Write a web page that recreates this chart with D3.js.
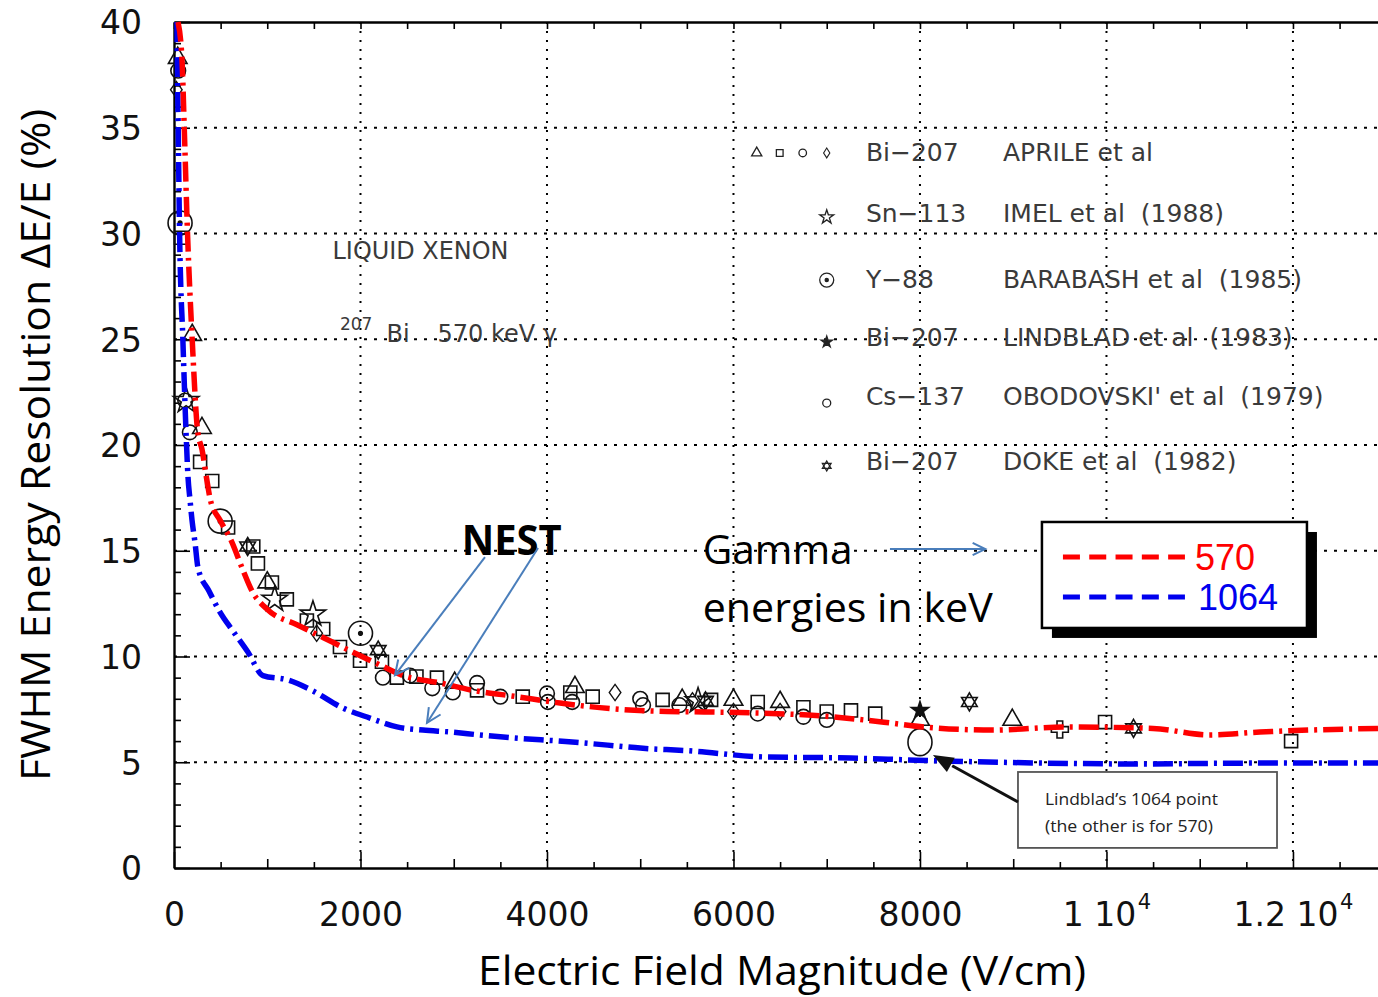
<!DOCTYPE html>
<html>
<head>
<meta charset="utf-8">
<script src="https://cdn.jsdelivr.net/npm/d3@7"></script>
<style>
  body { margin: 0; background: #fff; }
  svg { display: block; }
</style>
</head>
<body>
<svg id="chart" width="1378" height="997"></svg>
<script>
// ---------------- data ----------------
const xTickValues = [0, 2000, 4000, 6000, 8000, 10000, 12000];
const xTickLabels = ["0", "2000", "4000", "6000", "8000", "1 10^4", "1.2 10^4"];
const yTickValues = [0, 5, 10, 15, 20, 25, 30, 35, 40];
const yTickLabels = ["0", "5", "10", "15", "20", "25", "30", "35", "40"];

// NEST predictions, FWHM resolution (%) vs drift field (V/cm)
const curve570 = [[43,40],[86,38.2],[110,35],[145,30],[195,25],[255,20.6],[300,19.8],[354,18.3],
  [390,17.4],[493,16.45],[622,15.4],[729,14.2],[836,13.1],[1008,12.2],[1319,11.5],[1598,10.9],
  [1920,10.2],[2209,9.6],[2456,9.1],[2853,8.75],[3206,8.4],[3678,8.1],[4139,7.8],[4783,7.5],
  [5287,7.4],[5684,7.38],[6799,7.23],[7399,7.0],[7678,6.86],[8043,6.67],[8783,6.52],[9566,6.67],
  [10499,6.6],[11099,6.29],[11646,6.43],[12580,6.57],[12912,6.6]];
const curve1064 = [[32,40],[45,35],[60,30],[95,25],[130,20.5],[150,18.5],[172,17.4],[193,16.45],
  [225,15.4],[257,14.2],[375,13.1],[493,12.1],[633,11.2],[794,10.2],[954,9.1],[1212,8.9],
  [1491,8.37],[1812,7.56],[2102,7.09],[2391,6.67],[2670,6.52],[2960,6.43],[3281,6.29],[3635,6.15],
  [4200,5.98],[4750,5.77],[5000,5.67],[5500,5.55],[6338,5.25],[7260,5.2],[7957,5.1],[9340,4.96],
  [10263,4.92],[11646,4.96],[12912,4.96]];

// Measurements
const aprileTriangles = [[40,38.3],[195,25.2],[300,20.8],[1000,13.5],[3010,8.75],[4300,8.55],[5450,7.95],[6000,7.95],[6500,7.85],[8000,7.0],[8990,7.0]];
const aprileSquares = [[75,29.8],[280,19.2],[410,18.3],[580,16.1],[850,15.2],[900,14.4],[1050,13.5],[1210,12.7],[1425,11.7],[1600,11.3],[1780,10.45],[1995,9.8],[2230,9.75],[2390,9.0],[2600,9.05],[2820,9.0],[3250,8.4],[3740,8.1],[4250,8.3],[4490,8.1],[5240,7.95],[5760,7.95],[6260,7.85],[6750,7.6],[7000,7.4],[7260,7.45],[7520,7.3],[9985,6.9],[11980,6.0]];
const aprileCircles = [[45,37.7],[120,22.1],[170,20.6],[2240,9.0],[2530,9.1],[2770,8.5],[2990,8.3],[3250,8.75],[3500,8.1],[4000,8.25],[4010,7.85],[4270,7.85],[5000,8.0],[5030,7.7],[5420,7.7],[6260,7.3],[6750,7.15],[7000,7.0]];
const aprileDiamonds = [[25,36.8],[1530,11.1],[4730,8.3],[5560,7.9],[6000,7.4],[6500,7.4]];
const imelStars = [[130,22.1],[1080,12.7],[1490,12.0],[5620,7.9]];
const barabashPoints = [[65,30.5],[495,16.4],[2000,11.1]];
const lindbladPoints = [[8000,7.45]];
const lindblad1064Point = [[8000,5.95]];
const obodovskiPoints = [[9500,6.55]];
const dokePoints = [[790,15.2],[2190,10.3],[5700,7.9],[8530,7.85],[10290,6.6]];

const legendSymbols = ["aprile", "imel", "barabash", "lindblad", "obodovski", "doke"];
const legendIsotopes = ["Bi\u2212207", "Sn\u2212113", "Y\u221288", "Bi\u2212207", "Cs\u2212137", "Bi\u2212207"];
const legendAuthors = ["APRILE et al", "IMEL et al  (1988)", "BARABASH et al  (1985)", "LINDBLAD et al  (1983)", "OBODOVSKI' et al  (1979)", "DOKE et al  (1982)"];

const energyLabels = ["570", "1064"];
const energyColors = ["#ff0000", "#0000ee"];

// ---------------- layout ----------------
const svg = d3.select("#chart");
const xMax = 12912;
const x = d3.scaleLinear().domain([0, xMax]).range([174, 1378]);
const y = d3.scaleLinear().domain([0, 40]).range([868, 22]);

const sansTick = "'DejaVu Sans', sans-serif";
const scanFont = "'DejaVu Sans', sans-serif";
const officeFont = "'Open Sans', 'Noto Sans', sans-serif";

// ---------------- grid ----------------
const grid = svg.append("g");
grid.selectAll("line.gh").data(yTickValues.filter(v => v > 0 && v < 40)).join("line")
  .attr("x1", x(0)).attr("x2", x(xMax))
  .attr("y1", d => y(d)).attr("y2", d => y(d))
  .attr("stroke", "#000").attr("stroke-width", 1.8).attr("stroke-dasharray", "3,7");
grid.selectAll("line.gv").data(xTickValues.filter(v => v > 0)).join("line")
  .attr("x1", d => x(d)).attr("x2", d => x(d))
  .attr("y1", y(40)).attr("y2", y(0))
  .attr("stroke", "#000").attr("stroke-width", 2).attr("stroke-dasharray", "2,7");

// ---------------- axes / frame ----------------
const minorX = d3.range(0, xMax, 500);
const minorY = d3.range(0, 41, 1);

svg.append("g").attr("transform", `translate(0,${y(0)})`)
  .call(d3.axisBottom(x).tickValues(minorX).tickFormat("").tickSizeOuter(0).tickSizeInner(-6))
  .call(g => g.selectAll(".tick line")
    .attr("y2", d => d % 2000 === 0 ? -16 : (d % 1000 === 0 ? -9 : -6))
    .attr("stroke-width", 1.6))
  .call(g => g.select(".domain").attr("stroke-width", 2.4));

svg.append("g").attr("transform", `translate(0,${y(40)})`)
  .call(d3.axisTop(x).tickValues(minorX).tickFormat("").tickSizeOuter(0).tickSizeInner(-7))
  .call(g => g.selectAll(".tick line").attr("stroke-width", 1.6))
  .call(g => g.select(".domain").attr("stroke-width", 2.4));

svg.append("g").attr("transform", `translate(${x(0)},0)`)
  .call(d3.axisLeft(y).tickValues(minorY).tickFormat("").tickSizeOuter(0).tickSizeInner(-7))
  .call(g => g.selectAll(".tick line")
    .attr("x2", d => d % 5 === 0 ? 16 : 7)
    .attr("stroke-width", 1.6))
  .call(g => g.select(".domain").attr("stroke-width", 2.4));

// labelled ticks
svg.append("g").attr("transform", `translate(${x(0)},0)`)
  .call(d3.axisLeft(y).tickValues(yTickValues).tickSize(0).tickPadding(32)
    .tickFormat((d, i) => yTickLabels[i]))
  .call(g => g.select(".domain").remove())
  .call(g => g.selectAll("text")
    .attr("font-family", sansTick).attr("font-size", 33).attr("dy", "0.36em").attr("fill", "#111"));

svg.append("g").attr("transform", `translate(0,${y(0)})`)
  .call(d3.axisBottom(x).tickValues(xTickValues).tickSize(0).tickPadding(35).tickFormat(""))
  .call(g => g.select(".domain").remove())
  .call(g => g.selectAll("text")
    .attr("font-family", sansTick).attr("font-size", 33).attr("fill", "#111")
    .each(function (d, i) {
      const parts = xTickLabels[i].split("^");
      const t = d3.select(this);
      t.text(null);
      t.append("tspan").text(parts[0]);
      if (parts[1]) {
        t.append("tspan").attr("font-size", 21).attr("dy", "-0.85em").attr("dx", "0.08em").text(parts[1]);
      }
    }));

// axis titles
svg.append("text")
  .attr("transform", `translate(50,${(y(0) + y(40)) / 2 + 0}) rotate(-90)`)
  .attr("text-anchor", "middle")
  .attr("font-family", officeFont).attr("font-size", 40)
  .attr("textLength", 672).attr("lengthAdjust", "spacingAndGlyphs")
  .text("FWHM Energy Resolution \u0394E/E (%)");

svg.append("text")
  .attr("x", 782).attr("y", 985)
  .attr("text-anchor", "middle")
  .attr("font-family", officeFont).attr("font-size", 40)
  .attr("textLength", 608).attr("lengthAdjust", "spacingAndGlyphs")
  .text("Electric Field Magnitude (V/cm)");

// ---------------- scanned annotation text ----------------
const scan = svg.append("g").attr("fill", "#3a3a3a").attr("font-family", scanFont);
scan.append("text").attr("x", x(1700)).attr("y", y(28.8)).attr("font-size", 24)
  .attr("textLength", 176).attr("lengthAdjust", "spacingAndGlyphs").text("LIQUID XENON");
const biLabel = scan.append("text").attr("x", x(1780)).attr("y", y(24.85)).attr("font-size", 24);
biLabel.append("tspan").attr("font-size", 17).attr("dy", "-0.75em").text("207");
biLabel.append("tspan").attr("dy", "0.53em").attr("dx", 14).text("Bi");
biLabel.append("tspan").attr("dx", 28).text("570 keV \u03b3");

// ---------------- symbols ----------------
function hexagramPath(r) {
  const p = a => [Math.cos(a * Math.PI / 180) * r, Math.sin(a * Math.PI / 180) * r];
  const tri = angs => "M" + angs.map(a => p(a).join(",")).join("L") + "Z";
  return tri([-90, 30, 150]) + tri([90, 210, 330]);
}

const markerG = svg.append("g").attr("fill", "none").attr("stroke", "#111").attr("stroke-width", 1.6);

function drawSymbols(data, type, size) {
  markerG.append("g").selectAll("path").data(data).join("path")
    .attr("transform", d => `translate(${x(d[0])},${y(d[1])})`)
    .attr("d", d3.symbol().type(type).size(size));
}
drawSymbols(aprileSquares, d3.symbolSquare, 170);
drawSymbols(aprileCircles, d3.symbolCircle, 170);
drawSymbols(aprileTriangles, d3.symbolTriangle, 150);
markerG.append("g").selectAll("path").data(aprileDiamonds).join("path")
  .attr("d", d3.symbol().type(d3.symbolSquare).size(120)())
  .attr("transform", d => `translate(${x(d[0])},${y(d[1])}) scale(0.75,1.05) rotate(45)`);
drawSymbols(imelStars, d3.symbolStar, 200);
drawSymbols(obodovskiPoints, d3.symbolCross, 160);

// Barabash: circle with a centre dot
const bar = markerG.append("g").selectAll("g").data(barabashPoints).join("g")
  .attr("transform", d => `translate(${x(d[0])},${y(d[1])})`);
bar.append("circle").attr("r", 12);
bar.append("circle").attr("r", 1.8).attr("fill", "#111");

// Doke: hexagram
markerG.append("g").selectAll("path").data(dokePoints).join("path")
  .attr("transform", d => `translate(${x(d[0])},${y(d[1])})`)
  .attr("d", hexagramPath(9));

// Lindblad: filled star, and the open 1064 keV point
markerG.append("g").selectAll("path").data(lindbladPoints).join("path")
  .attr("transform", d => `translate(${x(d[0])},${y(d[1])})`)
  .attr("d", d3.symbol().type(d3.symbolStar).size(90)).attr("fill", "#111");
markerG.append("g").selectAll("ellipse").data(lindblad1064Point).join("ellipse")
  .attr("cx", d => x(d[0])).attr("cy", d => y(d[1])).attr("rx", 12).attr("ry", 13.5)
  .attr("fill", "#fff");

// ---------------- NEST curves ----------------
const line = d3.line().x(d => x(d[0])).y(d => y(d[1])).curve(d3.curveMonotoneX);
svg.append("path").datum(curve1064).attr("d", line)
  .attr("fill", "none").attr("stroke", energyColors[1]).attr("stroke-width", 5.5)
  .attr("stroke-dasharray", "20,6,3,6");
svg.append("path").datum(curve570).attr("d", line)
  .attr("fill", "none").attr("stroke", energyColors[0]).attr("stroke-width", 5.5)
  .attr("stroke-dasharray", "20,6,3,6");

// ---------------- in-plot key (scanned) ----------------
const keyRowsY = [33.43, 30.54, 27.42, 24.68, 21.89, 18.82];
const keySymDy = [-8, -5, -8, -4, -2, -4];
const keyG = svg.append("g");
const keySymX = x(7000);
keyG.selectAll("text.iso").data(legendIsotopes).join("text")
  .attr("x", x(7420)).attr("y", (d, i) => y(keyRowsY[i]))
  .attr("font-family", scanFont).attr("font-size", 25).attr("fill", "#3a3a3a")
  .text(d => d);
keyG.selectAll("text.auth").data(legendAuthors).join("text")
  .attr("x", x(8890)).attr("y", (d, i) => y(keyRowsY[i]))
  .attr("font-family", scanFont).attr("font-size", 25).attr("fill", "#3a3a3a")
  .attr("xml:space", "preserve")
  .text(d => d);

const keySym = keyG.append("g").attr("fill", "none").attr("stroke", "#222").attr("stroke-width", 1.3);
legendSymbols.forEach((s, i) => {
  const cy = y(keyRowsY[i]) + keySymDy[i];
  if (s === "aprile") {
    const types = [d3.symbolTriangle, d3.symbolSquare, d3.symbolCircle];
    types.forEach((t, j) => keySym.append("path")
      .attr("transform", `translate(${keySymX - 70 + j * 23},${cy})`)
      .attr("d", d3.symbol().type(t).size(45)));
    keySym.append("path").attr("transform", `translate(${keySymX},${cy}) scale(0.7,1.1) rotate(45)`)
      .attr("d", d3.symbol().type(d3.symbolSquare).size(40));
  } else if (s === "imel") {
    keySym.append("path").attr("transform", `translate(${keySymX},${cy})`)
      .attr("d", d3.symbol().type(d3.symbolStar).size(60));
  } else if (s === "barabash") {
    keySym.append("circle").attr("cx", keySymX).attr("cy", cy).attr("r", 7);
    keySym.append("circle").attr("cx", keySymX).attr("cy", cy).attr("r", 1.6).attr("fill", "#222");
  } else if (s === "lindblad") {
    keySym.append("path").attr("transform", `translate(${keySymX},${cy})`)
      .attr("d", d3.symbol().type(d3.symbolStar).size(40)).attr("fill", "#222");
  } else if (s === "obodovski") {
    keySym.append("circle").attr("cx", keySymX).attr("cy", cy).attr("r", 4);
  } else if (s === "doke") {
    keySym.append("path").attr("transform", `translate(${keySymX},${cy})`).attr("d", hexagramPath(5));
  }
});

// ---------------- energy legend box ----------------
const box = { x0: x(9308), x1: x(12150), y0: y(16.36), y1: y(11.35) };
svg.append("rect").attr("x", box.x0 + 10).attr("y", box.y0 + 10)
  .attr("width", box.x1 - box.x0).attr("height", box.y1 - box.y0).attr("fill", "#000");
svg.append("rect").attr("x", box.x0).attr("y", box.y0)
  .attr("width", box.x1 - box.x0).attr("height", box.y1 - box.y0)
  .attr("fill", "#fff").attr("stroke", "#000").attr("stroke-width", 2.5);
const legRows = [box.y0 + 35, box.y0 + 75];
energyLabels.forEach((lab, i) => {
  svg.append("line").attr("x1", box.x0 + 21).attr("x2", box.x0 + 143)
    .attr("y1", legRows[i]).attr("y2", legRows[i])
    .attr("stroke", energyColors[i]).attr("stroke-width", 5).attr("stroke-dasharray", "17,9.3");
  svg.append("text").attr("x", box.x0 + 153 + (i ? 3 : 0)).attr("y", legRows[i] + 13)
    .attr("font-family", "'Liberation Sans', Arial, sans-serif").attr("font-size", 36)
    .attr("fill", energyColors[i]).text(lab);
});

// ---------------- NEST annotation ----------------
const arrowBlue = "#4a7ebb";
function openArrow(g, p0, p1, color, width, headLen) {
  const [x0, y0] = [x(p0[0]), y(p0[1])];
  const [x1, y1] = [x(p1[0]), y(p1[1])];
  const ang = Math.atan2(y1 - y0, x1 - x0);
  const a1 = ang + Math.PI - 0.45, a2 = ang + Math.PI + 0.45;
  g.append("line").attr("x1", x0).attr("y1", y0).attr("x2", x1).attr("y2", y1)
    .attr("stroke", color).attr("stroke-width", width);
  g.append("path")
    .attr("d", `M${x1 + headLen * Math.cos(a1)},${y1 + headLen * Math.sin(a1)}L${x1},${y1}L${x1 + headLen * Math.cos(a2)},${y1 + headLen * Math.sin(a2)}`)
    .attr("fill", "none").attr("stroke", color).attr("stroke-width", width);
}
const ann = svg.append("g");
ann.append("text").attr("x", x(3085)).attr("y", y(14.8))
  .attr("font-family", officeFont).attr("font-weight", 700).attr("font-size", 42)
  .attr("textLength", 100).attr("lengthAdjust", "spacingAndGlyphs").text("NEST");
openArrow(ann, [3335, 14.7], [2370, 9.12], arrowBlue, 2, 16);
openArrow(ann, [3904, 15.13], [2713, 6.86], arrowBlue, 2, 16);

ann.append("text").attr("x", x(5670)).attr("y", y(14.35))
  .attr("font-family", officeFont).attr("font-size", 41)
  .attr("textLength", 150).attr("lengthAdjust", "spacingAndGlyphs").text("Gamma");
ann.append("text").attr("x", x(5670)).attr("y", y(11.65))
  .attr("font-family", officeFont).attr("font-size", 41)
  .attr("textLength", 290).attr("lengthAdjust", "spacingAndGlyphs").text("energies in keV");
openArrow(ann, [7678, 15.08], [8700, 15.08], arrowBlue, 2, 14);

// ---------------- Lindblad note ----------------
const note = { x0: x(9051), x1: x(11829), y0: y(4.54), y1: y(0.95) };
svg.append("rect").attr("x", note.x0).attr("y", note.y0)
  .attr("width", note.x1 - note.x0).attr("height", note.y1 - note.y0)
  .attr("fill", "#fff").attr("stroke", "#555").attr("stroke-width", 1.8);
svg.append("text").attr("x", note.x0 + 27).attr("y", note.y0 + 33)
  .attr("font-family", officeFont).attr("font-size", 16).attr("fill", "#222")
  .attr("textLength", 173).attr("lengthAdjust", "spacingAndGlyphs").text("Lindblad\u2019s 1064 point");
svg.append("text").attr("x", note.x0 + 27).attr("y", note.y0 + 60)
  .attr("font-family", officeFont).attr("font-size", 16).attr("fill", "#222")
  .attr("textLength", 168).attr("lengthAdjust", "spacingAndGlyphs").text("(the other is for 570)");

// filled arrow from the note to the 1064 keV point
(function () {
  const [x0, y0] = [x(9051), y(3.12)];
  const [x1, y1] = [x(8139), y(5.34)];
  const ang = Math.atan2(y1 - y0, x1 - x0);
  const hl = 22, hw = 0.38;
  const bx = x1 - hl * Math.cos(ang), by = y1 - hl * Math.sin(ang);
  svg.append("line").attr("x1", x0).attr("y1", y0).attr("x2", bx).attr("y2", by)
    .attr("stroke", "#111").attr("stroke-width", 3);
  svg.append("path")
    .attr("d", `M${x1},${y1}L${x1 + hl * Math.cos(ang + Math.PI - hw)},${y1 + hl * Math.sin(ang + Math.PI - hw)}L${x1 + hl * Math.cos(ang + Math.PI + hw)},${y1 + hl * Math.sin(ang + Math.PI + hw)}Z`)
    .attr("fill", "#111");
})();
</script>
</body>
</html>
